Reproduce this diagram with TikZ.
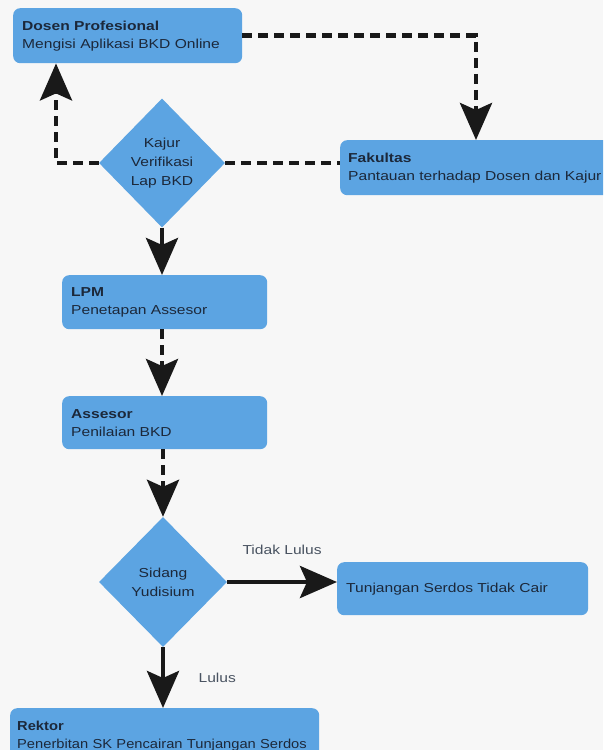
\documentclass[tikz,border=0pt]{standalone}
\usepackage{fontspec}
\setmainfont{Liberation Sans}
\newfontfamily\widefont[FakeStretch=1.2]{Liberation Sans}
\newfontfamily\slimfont[FakeStretch=1.13]{Liberation Sans}
\usetikzlibrary{shapes.geometric,arrows.meta}

\definecolor{boxblue}{RGB}{92,164,226}
\definecolor{textdark}{RGB}{28,40,58}
\definecolor{bgwhite}{RGB}{247,247,247}

\tikzset{
    box/.style={fill=boxblue, rounded corners=7pt, anchor=north west, align=left,
        inner xsep=9pt, inner ysep=0pt, minimum height=55pt, text=textdark,
        font=\widefont\fontsize{13}{18}\selectfont},
    decision/.style={diamond, fill=boxblue, inner sep=0pt, align=center, text=textdark,
        minimum width=126pt, minimum height=129pt,
        font=\widefont\fontsize{13}{19}\selectfont},
    flow/.style={line width=4.5pt, black!90,
        -{Stealth[length=37pt, width=32pt, inset=7pt]}},
    dashflow/.style={flow, dash pattern=on 10pt off 6pt},
    dashline/.style={line width=4.5pt, black!90, dash pattern=on 10pt off 6pt},
    lbl/.style={text=textdark!80, font=\widefont\fontsize{13}{16}\selectfont}
}

\begin{document}
\begin{tikzpicture}[x=1pt, y=-1pt]
    \useasboundingbox (0,0) rectangle (603,750);
    \clip (0,0) rectangle (603,750);
    \fill[bgwhite] (0,0) rectangle (603,750);

    % boxes
    \node[box, text width=211pt] (dosen) at (13,8) {\textbf{Dosen Profesional}\\Mengisi Aplikasi BKD Online};
    \node[box, text width=274pt, inner xsep=8pt] (fakultas) at (340,140) {\textbf{Fakultas}\\Pantauan terhadap Dosen dan Kajur};
    \node[box, text width=187pt, minimum height=54pt] (lpm) at (62,275) {\textbf{LPM}\\Penetapan Assesor};
    \node[box, text width=187pt, minimum height=53pt] (assesor) at (62,396) {\textbf{Assesor}\\Penilaian BKD};
    \node[box, text width=233pt, minimum height=53pt] (tunjangan) at (337,562) {Tunjangan Serdos Tidak Cair};
    \node[box, text width=300pt, inner xsep=4.5pt, font=\slimfont\fontsize{13}{18}\selectfont] (rektor) at (10,708)
        {\hspace{2.5pt}\textbf{Rektor}\\\hspace*{2.5pt}Penerbitan SK Pencairan Tunjangan Serdos};

    % decisions
    \node[decision] (kajur) at (162,163) {Kajur\\Verifikasi\\Lap BKD};
    \node[decision, minimum width=128pt, minimum height=130pt] (sidang) at (163,582) {Sidang\\Yudisium};

    % connectors
    \coordinate (c1) at (476,35.5);
    \coordinate (c2) at (56,163);
    \draw[dashflow] (dosen.east |- c1) -- (c1) -- (c1 |- fakultas.north);
    \draw[dashflow] (kajur.west) -- (c2) -- (c2 |- dosen.south);
    \draw[dashline] (kajur.east) -- (kajur.east -| fakultas.west);
    \draw[flow] (kajur.south) -- (kajur.south |- lpm.north);
    \draw[dashflow] (lpm.south -| kajur.south) -- (kajur.south |- assesor.north);
    \draw[dashflow] (assesor.south -| sidang.north) -- (sidang.north);
    \draw[flow] (sidang.east) -- (sidang.east -| tunjangan.west)
        node[lbl, midway, above=22pt] (tidak) {Tidak Lulus};
    \draw[flow] (sidang.south) -- (sidang.south |- rektor.north)
        node[lbl, midway, right=30pt] (lulus) {Lulus};
\end{tikzpicture}
\end{document}
